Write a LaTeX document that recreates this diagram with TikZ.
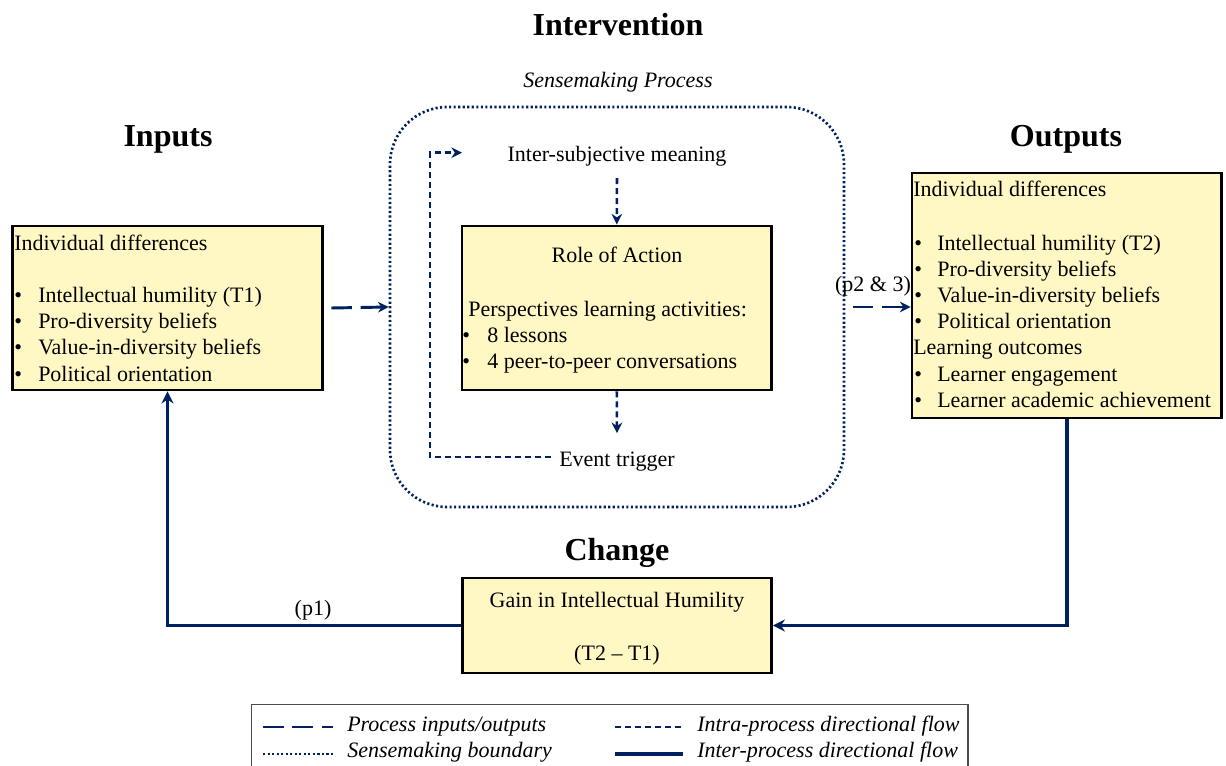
\documentclass[tikz,border=0pt]{standalone}
\usepackage{fontspec}
\setmainfont{Liberation Serif}
\usetikzlibrary{arrows.meta,fit,calc}
\definecolor{navy}{RGB}{0,32,96}
\definecolor{pale}{RGB}{255,248,196}
\tikzset{>=Stealth,every node/.style={font=\fontsize{16.5}{20}\selectfont,inner sep=0pt},
ttl/.style={font=\fontsize{24}{28}\selectfont\bfseries,anchor=base},
lgd/.style={font=\fontsize{16.5}{20}\selectfont\itshape,anchor=base west},
box/.style={draw=black,line width=2.2pt,fill=pale},
io/.style={navy,line width=2.2pt,dash pattern=on 15.5pt off 6.5pt,-{Stealth[length=8pt,width=8pt]}},
intra/.style={navy,line width=1.9pt,dash pattern=on 4.5pt off 3pt,-{Stealth[length=8pt,width=8pt]}},
bound/.style={draw=navy,line width=2pt,dash pattern=on 1.6pt off 1.8pt,rounded corners=43pt},
inter/.style={navy,line width=2.8pt,-{Stealth[length=9pt,width=9pt]}}}
\begin{document}
\begin{tikzpicture}[x=0.75pt,y=-0.75pt]
\useasboundingbox (0,0) rectangle (1226,766);
\node[ttl] (tint) at (618,36) {Intervention};\node[font=\fontsize{16.5}{20}\selectfont\itshape,anchor=base] (tsm) at (618,88) {Sensemaking Process};
\node[ttl] (tin) at (168,147) {Inputs};\node[ttl] (tout) at (1066,147) {Outputs};\node[ttl] (tchg) at (617,560) {Change};
% boxes
\node[bound,fit={(390,107) (844,507)}] (sb) {};
\node[box,fit={(12.5,226) (322.5,390)}] (in) {};
\node[box,fit={(462,226) (771.5,390)}] (act) {};
\node[anchor=base] (p23) at (873,291.5) {(p2 \& 3)};
\node[box,fit={(912,173) (1221.5,418)}] (out) {};
\node[box,fit={(462.5,578) (771.5,673)}] (chg) {};
% inputs
\node[anchor=base west] (ind1) at (14,251) {Individual differences};
\foreach \t [count=\i] in {Intellectual humility (T1),Pro-diversity beliefs,Value-in-diversity beliefs,Political orientation}
{\node[anchor=base west] (ib\i) at (14,275.6+26.4*\i) {\textbullet};\node[anchor=base west] (it\i) at (38,275.6+26.4*\i) {\t};}
% outputs
\node[anchor=base west] (ind2) at (913,197) {Individual differences};
\foreach \t [count=\i] in {Intellectual humility (T2),Pro-diversity beliefs,Value-in-diversity beliefs,Political orientation}
{\node[anchor=base west] (ob\i) at (914,224.7+26*\i) {\textbullet};\node[anchor=base west] (ot\i) at (937,224.7+26*\i) {\t};}
\node[anchor=base west] (lo) at (913,354.5) {Learning outcomes};
\foreach \t [count=\i] in {Learner engagement,Learner academic achievement}
{\node[anchor=base west] (lb\i) at (914,355+26*\i) {\textbullet};\node[anchor=base west] (lt\i) at (937,355+26*\i) {\t};}
% sensemaking
\node[anchor=base] (roa) at (617,263) {Role of Action};
\node[anchor=base west] (pla) at (468,316) {Perspectives learning activities:};
\node[anchor=base west] (ab1) at (462,342) {\textbullet};\node[anchor=base west] (at1) at (487,342) {8 lessons};
\node[anchor=base west] (ab2) at (462,368.5) {\textbullet};\node[anchor=base west] (at2) at (487,368.5) {4 peer-to-peer conversations};
\node[anchor=base] (ism) at (617,161.7) {Inter-subjective meaning};
\node[anchor=base] (evt) at (617,466) {Event trigger};
\coordinate (lpa) at (430,152.7);\coordinate (lpb) at (462,152.7);
\draw[intra] ([yshift=-8.5pt]ism.south) -- (act.north);\draw[intra] (act.south) -- ([yshift=13.5pt]evt.north);
\draw[intra] ([xshift=-6pt,yshift=3pt]evt.west) -| (lpa) -- (lpb);
\draw[io] ([xshift=5.5pt]in.east) -- (sb.west);\draw[io] ([xshift=5.5pt]sb.east) -- (sb.east -| out.west);
% change
\node[anchor=base] (gih) at (617,607.5) {Gain in Intellectual Humility};\node[anchor=base] (dt) at (617,660) {(T2 -- T1)};
\draw[inter] (out.south) |- (chg.east);\draw[inter] (chg.west) -| (in.south);
\node[anchor=base] (p1) at (313,615) {(p1)};
% legend
\node[draw=black!70,line width=0.9pt,fit={(251.5,704.5) (968,790)}] (leg) {};
\coordinate (la1) at (263,727);\coordinate (la2) at (333,727);\coordinate (lb1) at (263,754);\coordinate (lb2) at (333,754);
\coordinate (lc1) at (615,727);\coordinate (lc2) at (683,727);\coordinate (ld1) at (615,754);\coordinate (ld2) at (683,754);
\draw[io,-] (la1) -- (la2);\draw[bound] (lb1) -- (lb2);\draw[intra,-] (lc1) -- (lc2);\draw[inter,-,line width=3.2pt] (ld1) -- (ld2);
\node[lgd] (lg1) at (347,731) {Process inputs/outputs};\node[lgd] (lg2) at (347,757) {Sensemaking boundary};
\node[lgd] (lg3) at (697,731) {Intra-process directional flow};\node[lgd] (lg4) at (697,757) {Inter-process directional flow};
\end{tikzpicture}
\end{document}
